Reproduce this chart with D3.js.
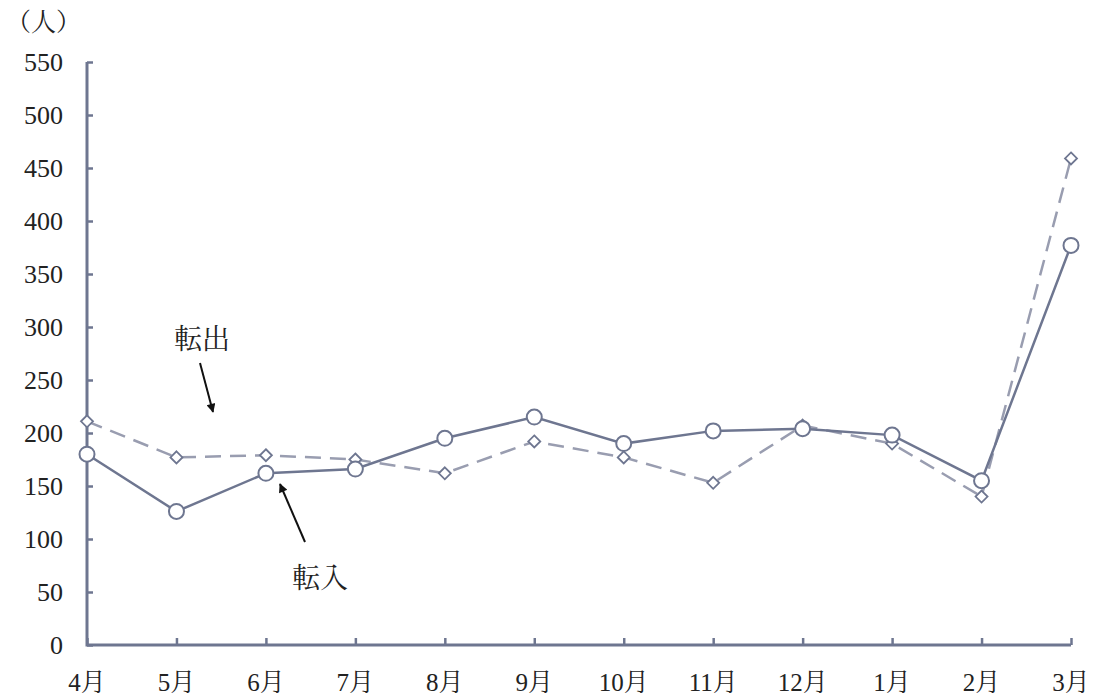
<!DOCTYPE html>
<html><head><meta charset="utf-8">
<script src="https://cdn.jsdelivr.net/npm/d3@7"></script>
<style>body{margin:0;background:#fff;} text{font-family:"Liberation Serif","Noto Serif CJK JP","Noto Sans CJK JP",serif;}</style>
</head><body><svg id="c" width="1095" height="699"></svg>
<script>
const months = ["4月","5月","6月","7月","8月","9月","10月","11月","12月","1月","2月","3月"];
const tennyu = [180,126,162,166,195,215,190,202,204,198,155,377];
const tenshutsu = [211,177,179,175,162,192,177,153,207,190,140,459];
const yTicks = [0,50,100,150,200,250,300,350,400,450,500,550];

const svg = d3.select("#c");
const axisColor = "#6e7690";
const x = d3.scalePoint().domain(months).range([87,1071]);
const y = d3.scaleLinear().domain([0,550]).range([645,62]);

// axes
const ya = svg.append("g").attr("transform","translate(87,0)")
  .call(d3.axisRight(y).tickValues(yTicks).tickSize(6).tickFormat(""));
ya.select(".domain").remove();
ya.selectAll("line").attr("stroke",axisColor).attr("stroke-width",2.5);
const xa = svg.append("g").attr("transform","translate(0,645)")
  .call(d3.axisTop(x).tickSize(7).tickFormat(""));
xa.select(".domain").remove();
xa.selectAll("line").attr("stroke",axisColor).attr("stroke-width",2.5);
svg.append("path").attr("d",`M87,${y(550)}V645H1071`).attr("fill","none").attr("stroke",axisColor).attr("stroke-width",3);

svg.append("g").selectAll("text").data(yTicks).join("text")
  .attr("x",63).attr("y",d=>y(d)+9).attr("text-anchor","end")
  .attr("font-size",26).attr("fill","#222").text(d=>d);
svg.append("g").selectAll("text").data(months).join("text")
  .attr("x",d=>x(d)).attr("y",691).attr("text-anchor","middle")
  .attr("font-size",25).attr("fill","#222").text(d=>d);
svg.append("text").attr("x",6).attr("y",31).attr("font-size",25).attr("fill","#222").text("（人）");

const line = d3.line().x((d,i)=>x(months[i])).y(d=>y(d));
// 転出 dashed
svg.append("path").datum(tenshutsu).attr("d",line).attr("fill","none")
  .attr("stroke","#999db0").attr("stroke-width",2.5).attr("stroke-dasharray","16,9");
svg.append("path").datum(tennyu).attr("d",line).attr("fill","none")
  .attr("stroke",axisColor).attr("stroke-width",2.5);
svg.append("g").selectAll("path").data(tenshutsu).join("path")
  .attr("d","M0,-6L6,0L0,6L-6,0Z")
  .attr("transform",(d,i)=>`translate(${x(months[i])},${y(d)})`)
  .attr("fill","#fff").attr("stroke",axisColor).attr("stroke-width",1.8);
svg.append("g").selectAll("circle").data(tennyu).join("circle")
  .attr("cx",(d,i)=>x(months[i])).attr("cy",d=>y(d)).attr("r",7.5)
  .attr("fill","#fff").attr("stroke",axisColor).attr("stroke-width",2);

// annotations
svg.append("defs").append("marker").attr("id","ah").attr("viewBox","0 0 10 10")
  .attr("refX",9).attr("refY",5).attr("markerWidth",7).attr("markerHeight",4.5).attr("orient","auto")
  .append("path").attr("d","M0,0L10,5L0,10Z").attr("fill","#111");
svg.append("text").attr("x",174).attr("y",349).attr("font-size",28).attr("fill","#222").text("転出");
svg.append("line").attr("x1",200).attr("y1",363).attr("x2",213).attr("y2",412)
  .attr("stroke","#111").attr("stroke-width",2).attr("marker-end","url(#ah)");
svg.append("text").attr("x",292).attr("y",588).attr("font-size",28).attr("fill","#222").text("転入");
svg.append("line").attr("x1",305).attr("y1",542).attr("x2",280).attr("y2",484)
  .attr("stroke","#111").attr("stroke-width",2).attr("marker-end","url(#ah)");
</script></body></html>
